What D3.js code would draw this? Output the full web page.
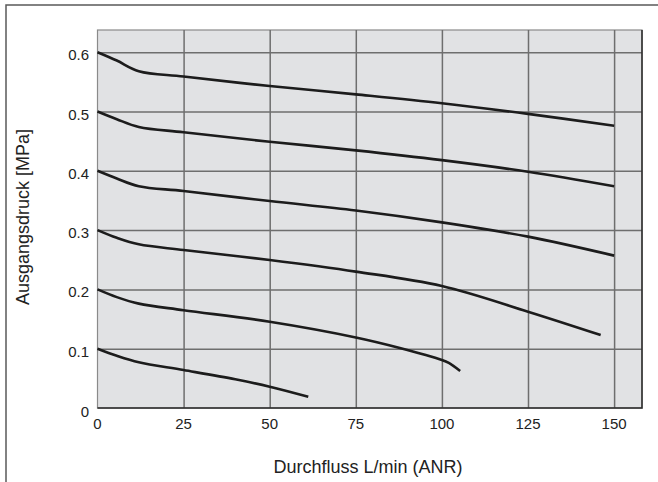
<!DOCTYPE html>
<html>
<head>
<meta charset="utf-8">
<script src="https://cdn.jsdelivr.net/npm/d3@7"></script>
<style>
  body { margin: 0; background: #fff; }
  svg { display: block; font-family: "Liberation Sans", Arial, sans-serif; }
</style>
</head>
<body>
<div class="chart"></div>
<script>
// Taille du dessin
const width = 658;
const height = 482;
const plot = { left: 97.5, right: 642, top: 30, bottom: 408 };

// Valeurs (débit L/min, pression MPa)
const xTicks = [0, 25, 50, 75, 100, 125, 150];
const yTicks = [0, 0.1, 0.2, 0.3, 0.4, 0.5, 0.6];

const flow06 = [0, 5.6, 12, 25, 50, 75, 100, 125, 150];
const press06 = [0.6, 0.586, 0.568, 0.559, 0.543, 0.529, 0.514, 0.496, 0.476];

const flow05 = [0, 5.6, 12, 25, 50, 75, 100, 125, 150];
const press05 = [0.5, 0.487, 0.474, 0.465, 0.449, 0.4345, 0.418, 0.3985, 0.374];

const flow04 = [0, 5.6, 12, 25, 50, 75, 100, 125, 150];
const press04 = [0.4, 0.387, 0.374, 0.366, 0.349, 0.333, 0.313, 0.289, 0.257];

const flow03 = [0, 5.6, 12, 25, 50, 75, 100, 125, 146.1];
const press03 = [0.3, 0.287, 0.276, 0.2665, 0.2496, 0.23, 0.2057, 0.1624, 0.123];

const flow02 = [0, 5.6, 12, 25, 50, 75, 87.5, 100, 102, 105.3];
const press02 = [0.2, 0.187, 0.176, 0.165, 0.1455, 0.119, 0.1017, 0.081, 0.076, 0.0624];

const flow01 = [0, 5.6, 12, 25, 40, 50, 61.2];
const press01 = [0.1, 0.088, 0.077, 0.064, 0.0484, 0.036, 0.019];

const curves = [
  d3.zip(flow06, press06),
  d3.zip(flow05, press05),
  d3.zip(flow04, press04),
  d3.zip(flow03, press03),
  d3.zip(flow02, press02),
  d3.zip(flow01, press01)
];

const svg = d3.select('.chart')
  .append('svg')
  .attr('width', width)
  .attr('height', height);

// cadre extérieur (haut et gauche seulement)
svg.append('path')
  .attr('d', `M6,${height} V5 H${width}`)
  .attr('fill', 'none')
  .attr('stroke', '#5a5a5a')
  .attr('stroke-width', 1.5);

const x = d3.scaleLinear()
  .domain([0, 158.1])
  .range([plot.left, plot.right]);

const y = d3.scaleLinear()
  .domain([0, 0.6375])
  .range([plot.bottom, plot.top]);

// fond gris
svg.append('rect')
  .attr('x', plot.left)
  .attr('y', plot.top)
  .attr('width', plot.right - plot.left)
  .attr('height', plot.bottom - plot.top)
  .attr('fill', '#e1e2e4')
  .attr('stroke', '#8a8a8a')
  .attr('stroke-width', 1.2);

// grille verticale
svg.append('g')
  .attr('transform', `translate(0, ${plot.bottom})`)
  .call(d3.axisBottom(x).tickValues(xTicks.slice(1)).tickSize(-(plot.bottom - plot.top)).tickFormat(''))
  .call(g => g.select('.domain').remove())
  .call(g => g.selectAll('line').attr('stroke', '#6e6e6e').attr('stroke-width', 1.5));

// grille horizontale
svg.append('g')
  .attr('transform', `translate(${plot.left}, 0)`)
  .call(d3.axisLeft(y).tickValues(yTicks.slice(1)).tickSize(-(plot.right - plot.left)).tickFormat(''))
  .call(g => g.select('.domain').remove())
  .call(g => g.selectAll('line').attr('stroke', '#6e6e6e').attr('stroke-width', 1.5));

// bords droit et bas plus foncés
svg.append('path')
  .attr('d', `M${plot.right},${plot.top} V${plot.bottom} H${plot.left}`)
  .attr('fill', 'none')
  .attr('stroke', '#2a2a2a')
  .attr('stroke-width', 1.5);

// libellés des graduations
svg.append('g')
  .attr('font-size', 15)
  .attr('fill', '#222')
  .attr('text-anchor', 'middle')
  .selectAll('text')
  .data(xTicks)
  .join('text')
    .attr('x', d => x(d))
    .attr('y', 429)
    .text(d => d);

svg.append('g')
  .attr('font-size', 15)
  .attr('fill', '#222')
  .attr('text-anchor', 'end')
  .selectAll('text')
  .data(yTicks)
  .join('text')
    .attr('x', 89)
    .attr('y', d => d === 0 ? y(d) + 9 : y(d) + 8)
    .text(d => d === 0 ? '0' : d.toFixed(1));

// courbes
const line = d3.line()
  .x(d => x(d[0]))
  .y(d => y(d[1]))
  .curve(d3.curveCatmullRom.alpha(0.5));

svg.append('g')
  .selectAll('path')
  .data(curves)
  .join('path')
    .attr('d', line)
    .attr('fill', 'none')
    .attr('stroke', '#1c1c1c')
    .attr('stroke-width', 2.6)
    .attr('stroke-linejoin', 'round');

// titres des axes
svg.append('text')
  .attr('x', 368)
  .attr('y', 473)
  .attr('text-anchor', 'middle')
  .attr('font-size', 18)
  .attr('fill', '#222')
  .text('Durchfluss L/min (ANR)');

svg.append('text')
  .attr('transform', `translate(29, 217) rotate(-90)`)
  .attr('text-anchor', 'middle')
  .attr('font-size', 18)
  .attr('fill', '#222')
  .text('Ausgangsdruck [MPa]');
</script>
</body>
</html>
